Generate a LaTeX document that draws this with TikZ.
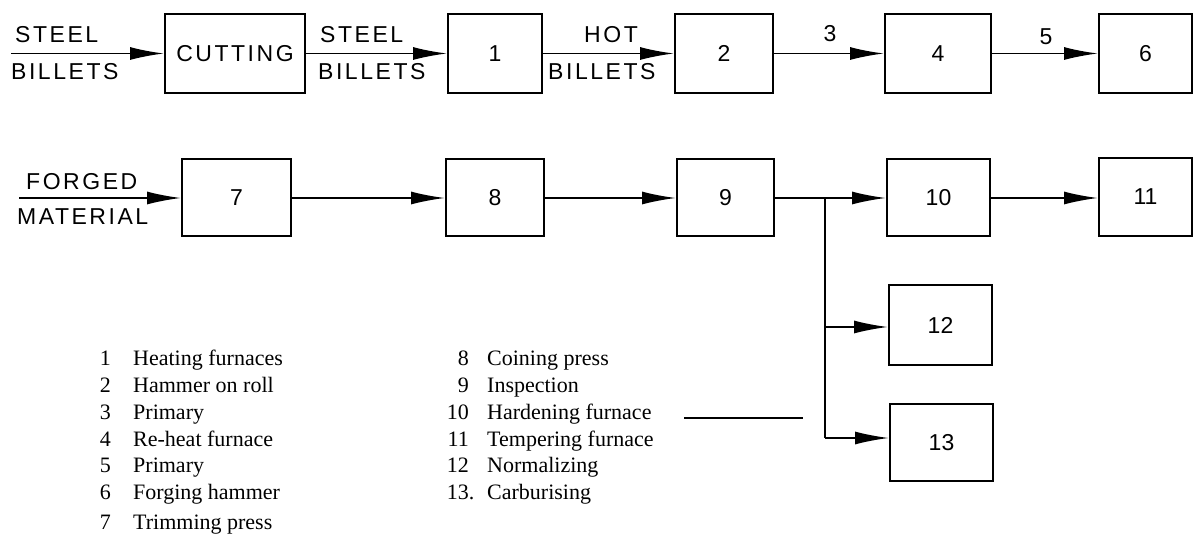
\documentclass[tikz,border=0pt]{standalone}
\usepackage{fontspec}
\setmainfont{Liberation Serif}
\newfontfamily\lblfont[LetterSpace=11]{Liberation Sans}
\newfontfamily\numfont{Liberation Sans}
\usetikzlibrary{arrows.meta}
\begin{document}
\begin{tikzpicture}[x=1pt,y=-1pt,
  boxnode/.style={draw,line width=2pt,inner sep=0pt,font=\numfont\fontsize{23}{23}\selectfont},
  lbl/.style={inner sep=0pt,font=\lblfont\fontsize{23}{23}\selectfont},
  conn/.style={line width=1.8pt},
  arr/.style={line width=1.8pt,-{Latex[length=34pt,width=13pt]}},
  legnum/.style={inner sep=0pt,anchor=base east,font=\fontsize{22}{26}\selectfont},
  legtxt/.style={inner sep=0pt,anchor=base west,font=\fontsize{22}{26}\selectfont}]
\useasboundingbox (0,0) rectangle (1194,534);
% top row
\node[boxnode,minimum width=140pt,minimum height=79pt,font=\lblfont\fontsize{23}{23}\selectfont] (cut) at (235,53.5) {CUTTING};
\node[boxnode,minimum width=94pt,minimum height=79pt] (b1) at (495,53.5) {1};
\node[boxnode,minimum width=98pt,minimum height=79pt] (b2) at (724,53.5) {2};
\node[boxnode,minimum width=106pt,minimum height=79pt] (b4) at (938,53.5) {4};
\node[boxnode,minimum width=93pt,minimum height=79pt] (b6) at (1145.5,53.5) {6};
% second row
\node[boxnode,minimum width=109pt,minimum height=77pt] (b7) at (236.5,198) {7};
\node[boxnode,minimum width=98pt,minimum height=77pt] (b8) at (495,198) {8};
\node[boxnode,minimum width=97pt,minimum height=77pt] (b9) at (725.5,198) {9};
\node[boxnode,minimum width=103pt,minimum height=77pt] (b10) at (938.5,198) {10};
\node[boxnode,minimum width=93pt,minimum height=78pt] (b11) at (1145.5,197) {11};
\node[boxnode,minimum width=103pt,minimum height=80pt] (b12) at (940.5,325) {12};
\node[boxnode,minimum width=103pt,minimum height=77pt] (b13) at (941.5,442.5) {13};
% connectors
\coordinate (s0) at (11,53.5);
\coordinate (s1) at (19,198);
\draw[arr] (s0) -- (cut.west);
\draw[arr] (cut.east) -- (b1.west);
\draw[arr] (b1.east) -- (b2.west);
\draw[arr] (b2.east) -- (b4.west);
\draw[arr] (b4.east) -- (b6.west);
\draw[arr] (s1) -- (b7.west);
\draw[arr] (b7.east) -- (b8.west);
\draw[arr] (b8.east) -- (b9.west);
\draw[arr] (b9.east) -- (b10.west);
\coordinate (j1) at (825,198);
\coordinate (j2) at (825,327);
\coordinate (j3) at (825,438);
\draw[conn] (j1) -- (j3);
\draw[arr] (j2) -- (j2 -| b12.west);
\draw[arr] (j3) -- (j3 -| b13.west);
\draw[arr] (b10.east) -- (b10.east -| b11.west);
% labels
\node[lbl,anchor=base west] (tsa) at (15,43) {STEEL};
\node[lbl,anchor=base west] (tba) at (11,80) {BILLETS};
\node[lbl,anchor=base west] (tsb) at (320,43) {STEEL};
\node[lbl,anchor=base west] (tbb) at (318,80) {BILLETS};
\node[lbl,anchor=base west] (thot) at (584,43) {HOT};
\node[lbl,anchor=base west] (tbc) at (548,80) {BILLETS};
\node[lbl,anchor=base] (t3) at (830,42) {3};
\node[lbl,anchor=base] (t5) at (1046,45) {5};
\node[lbl,anchor=base west] (tfo) at (26,190) {FORGED};
\node[lbl,anchor=base west] (tma) at (17,225) {MATERIAL};
% legend
\foreach \n/\t/\y in {1/Heating furnaces/366,2/Hammer on roll/392.7,3/Primary/419.4,4/Re-heat furnace/446.1,5/Primary/472.8,6/Forging hammer/499.5,7/Trimming press/529}{
  \node[legnum] (ln\n) at (111,\y) {\n};
  \node[legtxt] (lt\n) at (133,\y) {\t};
}
\foreach \n/\m/\t/\y in {8/8/Coining press/366,9/9/Inspection/392.7,10/10/Hardening furnace/419.4,11/11/Tempering furnace/446.1,12/12/Normalizing/472.8,13/13\rlap{.}/Carburising/499.5}{
  \node[legnum] (ln\n) at (469,\y) {\m};
  \node[legtxt] (lt\n) at (487,\y) {\t};
}
\coordinate (r1) at (684,418);
\coordinate (r2) at (803,418);
\draw[line width=1.2pt] (r1) -- (r2);
\end{tikzpicture}
\end{document}
